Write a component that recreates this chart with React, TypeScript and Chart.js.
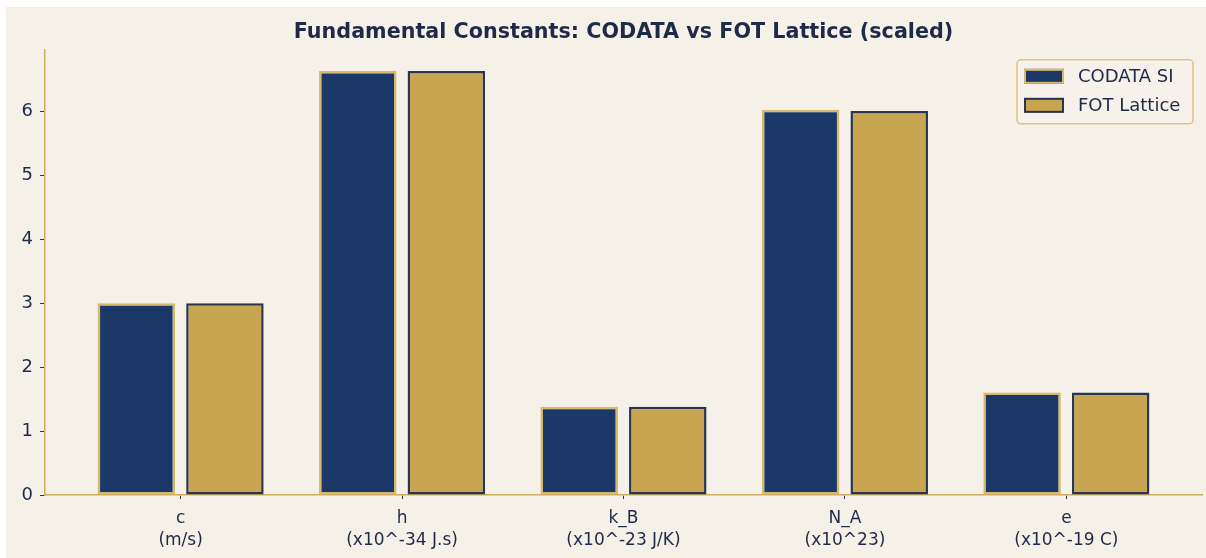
import { useEffect, useRef } from "react";
import { Chart, registerables } from "chart.js";

Chart.register(...registerables);

const chartTitle = "Fundamental Constants: CODATA vs FOT Lattice (scaled)";
const categories = ["c", "h", "k_B", "N_A", "e"];
const categoryUnits = ["(m/s)", "(x10^-34 J.s)", "(x10^-23 J/K)", "(x10^23)", "(x10^-19 C)"];
const seriesNames = ["CODATA SI", "FOT Lattice"];
const codataValues = [2.998, 6.626, 1.381, 6.022, 1.602];
const fotValues = [2.998, 6.626, 1.381, 6.0, 1.602];
const yTickValues = [0, 1, 2, 3, 4, 5, 6];

const NAVY = "#1B3868";
const GOLD = "#C8A550";
const GOLD_EDGE = "#D6B96C";
const NAVY_EDGE = "#2A3552";
const TEXT = "#1E2A47";
const SPINE = "#CDAE5E";
const BG = "#F5F0E8";

const yMax = Math.max(...codataValues, ...fotValues) * 1.05;
const xMin = -0.6125;
const xMax = categories.length - 1 + 0.6125;

const legendPlugin = {
  id: "boxLegend",
  afterDraw(chart: any) {
    const ctx = chart.ctx as CanvasRenderingContext2D;
    const area = chart.chartArea;
    const w = 176;
    const h = 64;
    const x = area.right - 9 - w;
    const y = area.top + 10;
    ctx.save();
    ctx.beginPath();
    const r = 4;
    ctx.moveTo(x + r, y);
    ctx.lineTo(x + w - r, y);
    ctx.arcTo(x + w, y, x + w, y + r, r);
    ctx.lineTo(x + w, y + h - r);
    ctx.arcTo(x + w, y + h, x + w - r, y + h, r);
    ctx.lineTo(x + r, y + h);
    ctx.arcTo(x, y + h, x, y + h - r, r);
    ctx.lineTo(x, y + r);
    ctx.arcTo(x, y, x + r, y, r);
    ctx.closePath();
    ctx.fillStyle = "rgba(246,242,235,0.9)";
    ctx.fill();
    ctx.strokeStyle = "#DCC385";
    ctx.lineWidth = 1.5;
    ctx.stroke();

    const items = [
      { label: seriesNames[0], fill: NAVY, edge: GOLD_EDGE },
      { label: seriesNames[1], fill: GOLD, edge: NAVY_EDGE },
    ];
    items.forEach((it, i) => {
      const sy = y + 9 + i * 29;
      ctx.fillStyle = it.fill;
      ctx.fillRect(x + 7, sy, 40, 15);
      ctx.strokeStyle = it.edge;
      ctx.lineWidth = 2;
      ctx.strokeRect(x + 8, sy + 1, 38, 13);
      ctx.fillStyle = TEXT;
      ctx.font = "18px 'DejaVu Sans'";
      ctx.textBaseline = "middle";
      ctx.textAlign = "left";
      ctx.fillText(it.label, x + 61, sy + 8);
    });
    ctx.restore();
  },
};

export default function App() {
  const ref = useRef<HTMLCanvasElement | null>(null);

  useEffect(() => {
    if (!ref.current) return;
    Chart.defaults.font.family = "'DejaVu Sans'";
    const chart = new Chart(ref.current, {
      type: "bar",
      data: {
        datasets: [
          {
            label: seriesNames[0],
            data: codataValues.map((v, i) => ({ x: i, y: v })),
            backgroundColor: NAVY,
            borderColor: GOLD_EDGE,
            borderWidth: 2.5,
            borderSkipped: false,
          },
          {
            label: seriesNames[1],
            data: fotValues.map((v, i) => ({ x: i, y: v })),
            backgroundColor: GOLD,
            borderColor: NAVY_EDGE,
            borderWidth: 2.5,
            borderSkipped: false,
          },
        ],
      },
      options: {
        responsive: false,
        animation: false,
        categoryPercentage: 0.8,
        barPercentage: 0.875,
        layout: { padding: { left: 0, right: 4, top: 0, bottom: 0 } },
        plugins: {
          legend: { display: false },
          tooltip: { enabled: false },
          title: {
            display: true,
            fullSize: false,
            text: chartTitle,
            color: TEXT,
            font: { family: "'DejaVu Sans'", size: 20.7, weight: "bold" },
            padding: { top: 13, bottom: 5 },
          },
        },
        scales: {
          x: {
            type: "linear",
            offset: false,
            min: xMin,
            max: xMax,
            afterBuildTicks: (scale: any) => {
              scale.ticks = categories.map((_, i) => ({ value: i }));
            },
            afterFit: (scale: any) => {
              scale.height = 63;
            },
            grid: {
              offset: false,
              drawOnChartArea: false,
              drawTicks: true,
              tickLength: 4,
              tickColor: NAVY_EDGE,
              tickWidth: 1,
            },
            border: { display: true, color: SPINE, width: 1.5 },
            ticks: {
              color: TEXT,
              font: { size: 17, lineHeight: 1.294 },
              padding: 9,
              maxRotation: 0,
              autoSkip: false,
              callback: (value: any) => {
                const i = Math.round(Number(value));
                return [categories[i], categoryUnits[i]];
              },
            },
          },
          y: {
            type: "linear",
            min: 0,
            max: yMax,
            afterBuildTicks: (scale: any) => {
              scale.ticks = yTickValues.map((v) => ({ value: v }));
            },
            afterFit: (scale: any) => {
              scale.width = 39;
            },
            grid: {
              drawOnChartArea: false,
              drawTicks: true,
              tickLength: 5,
              tickColor: NAVY_EDGE,
              tickWidth: 1,
            },
            border: { display: true, color: SPINE, width: 1.5 },
            ticks: {
              color: TEXT,
              font: { size: 18 },
              padding: 7,
              callback: (value: any) => String(value),
            },
          },
        },
      },
      plugins: [legendPlugin],
    } as any);
    return () => chart.destroy();
  }, []);

  return (
    <div
      style={{
        position: "absolute",
        left: 6,
        top: 7,
        width: 1200,
        height: 551,
        background: BG,
      }}
    >
      <canvas ref={ref} width={1200} height={551} style={{ display: "block" }} />
    </div>
  );
}
